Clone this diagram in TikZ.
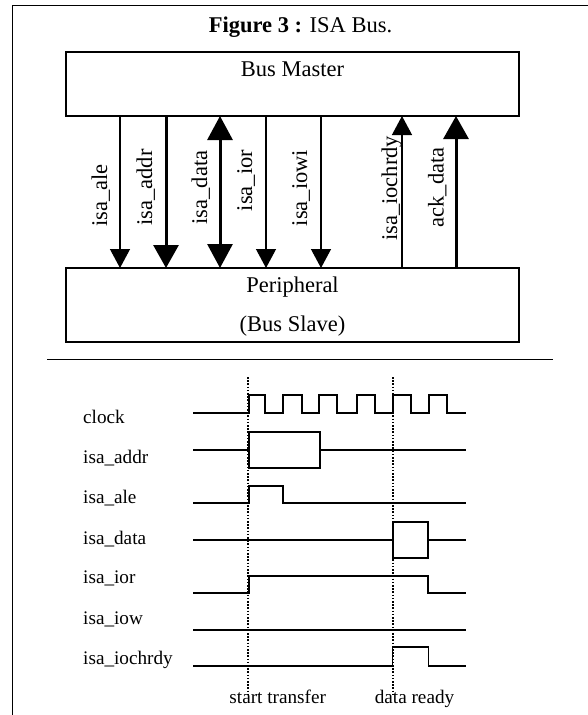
\documentclass[tikz,border=0pt]{standalone}
\usepackage{fontspec}
\setmainfont{Liberation Serif}
\usetikzlibrary{arrows.meta}
\begin{document}
\begin{tikzpicture}[x=1pt,y=-1pt,
  blockbox/.style={draw,line width=1.5pt,inner sep=0pt,outer sep=0pt},
  bigtext/.style={font=\fontsize{22.5}{27}\selectfont,inner sep=0pt},
  siglabel/.style={font=\fontsize{22.5}{27}\selectfont,inner sep=0pt,rotate=90,anchor=base},
  thinarrow/.style={line width=1.3pt,-{Triangle[width=20pt,length=19pt]}},
  thickarrow/.style={line width=3pt,-{Triangle[width=25pt,length=23pt]}},
  boththick/.style={line width=3pt,{Triangle[width=25pt,length=24pt]}-{Triangle[width=25pt,length=24pt]}},
  wave/.style={line width=1.8pt,line join=miter},
  marker/.style={line width=1.6pt,dash pattern=on 1.6pt off 1.6pt},
  tlabel/.style={font=\fontsize{19.2}{23}\selectfont,inner sep=0pt,anchor=base west},
  blabel/.style={font=\fontsize{19.2}{23}\selectfont,inner sep=0pt,anchor=base},
  ]
\useasboundingbox (0,0) rectangle (588,715);
\fill[white] (0,0) rectangle (588,715);
% frame and separator
\draw[line width=1.2pt] (12.5,715) -- (12.5,5.5) -- (588,5.5);
\draw[line width=1pt] (47,359) -- (553,359);
% title
\node[bigtext,anchor=base] (title) at (300.5,32) {\textbf{Figure 3 :} ISA Bus.};
% blocks
\node[blockbox,minimum width=453pt,minimum height=64pt] (master) at (292.5,84) {};
\node[bigtext,anchor=base] (mastertxt) at (292.5,76) {Bus Master};
\node[blockbox,minimum width=453pt,minimum height=74pt] (periph) at (292.5,305) {};
\node[bigtext,anchor=base] (periphtxt) at (292.5,292) {Peripheral};
\node[bigtext,anchor=base] (slavetxt) at (292.5,331.5) {(Bus Slave)};
% arrow columns
\coordinate (cale) at (120,0);
\coordinate (caddr) at (166,0);
\coordinate (cdata) at (220,0);
\coordinate (cior) at (266,0);
\coordinate (ciowi) at (321,0);
\coordinate (crdy) at (402,0);
\coordinate (cack) at (456,0);
\draw[thinarrow] (master.south -| cale) -- (periph.north -| cale);
\draw[thickarrow] (master.south -| caddr) -- (periph.north -| caddr);
\draw[boththick] (master.south -| cdata) -- (periph.north -| cdata);
\draw[thinarrow] (master.south -| cior) -- (periph.north -| cior);
\draw[thinarrow] (master.south -| ciowi) -- (periph.north -| ciowi);
\draw[thinarrow] (periph.north -| crdy) -- (master.south -| crdy);
\draw[thickarrow] (periph.north -| cack) -- (master.south -| cack);
% arrow labels
\node[siglabel] (lale) at (107,195.5) {isa\_ale};
\node[siglabel] (laddr) at (152,187.5) {isa\_addr};
\node[siglabel] (ldata) at (207,187.5) {isa\_data};
\node[siglabel] (lior) at (252,180.5) {isa\_ior};
\node[siglabel] (liowi) at (307,188) {isa\_iowi};
\node[siglabel] (lrdy) at (397,188.5) {isa\_iochrdy};
\node[siglabel] (lack) at (443.5,187.5) {ack\_data};
% timing labels
\node[tlabel] (tclock) at (83,423) {clock};
\node[tlabel] (taddr) at (83,463) {isa\_addr};
\node[tlabel] (tale) at (83,503) {isa\_ale};
\node[tlabel] (tdata) at (83,544) {isa\_data};
\node[tlabel] (tior) at (83,583) {isa\_ior};
\node[tlabel] (tiow) at (83,624) {isa\_iow};
\node[tlabel] (trdy) at (83,664) {isa\_iochrdy};
% markers
\draw[marker] (248,377) -- (248,695);
\draw[marker] (393,377) -- (393,695);
% waveforms
\draw[wave] (193,413) -- (249,413) -- (249,395) -- (265,395) -- (265,413) -- (283,413) -- (283,395) -- (302,395) -- (302,413) -- (319,413) -- (319,395) -- (337,395) -- (337,413) -- (357,413) -- (357,395) -- (375,395) -- (375,413) -- (393,413) -- (393,395) -- (411,395) -- (411,413) -- (429,413) -- (429,395) -- (447,395) -- (447,413) -- (466,413);
\draw[wave] (193,450) -- (249,450) (249,432) rectangle (320,468) (320,450) -- (466,450);
\draw[wave] (193,503) -- (249,503) -- (249,486) -- (283,486) -- (283,503) -- (466,503);
\draw[wave] (193,540) -- (393,540) (393,522) rectangle (428,558) (428,540) -- (466,540);
\draw[wave] (193,593) -- (249,593) -- (249,576) -- (428,576) -- (428,593) -- (466,593);
\draw[wave] (193,630) -- (466,630);
\draw[wave] (193,666) -- (392.5,666) -- (392.5,647) -- (428.5,647) -- (428.5,666) -- (466,666);
% marker labels
\node[blabel] (tstart) at (277.7,703) {start transfer};
\node[blabel] (tready) at (414.5,703) {data ready};
\end{tikzpicture}
\end{document}
